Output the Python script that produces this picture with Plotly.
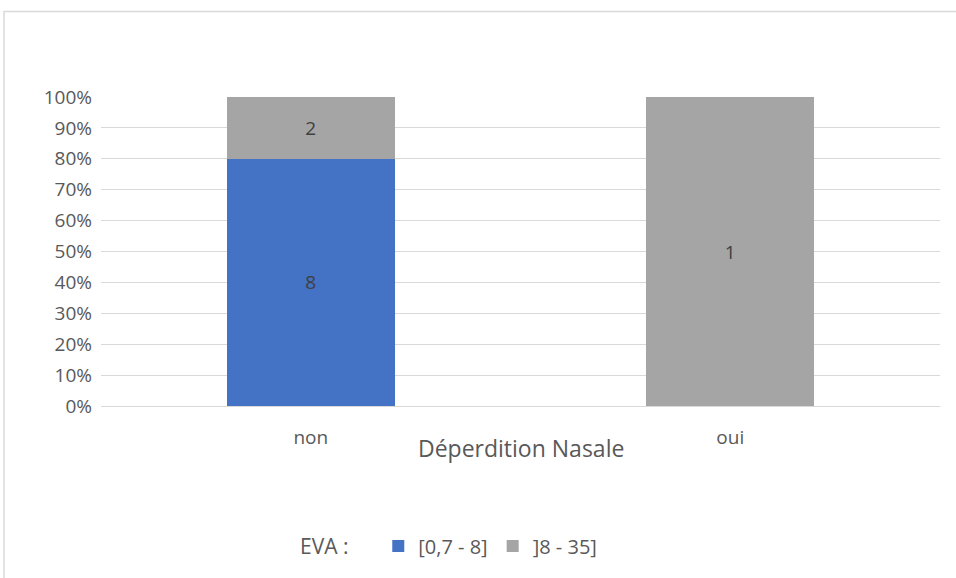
import plotly.graph_objects as go

# Données
categories = ['non', 'oui']
series_names = ['[0,7 - 8]', ']8 - 35]']
eva_low = [8, 0]
eva_high = [2, 1]
colors = ['#4472C4', '#A5A5A5']

W, H = 956, 578
ML, MR, MT, MB = 101, 16, 97, 170
PW, PH = W - ML - MR, H - MT - MB

fig = go.Figure()

for name, vals, col in zip(series_names, [eva_low, eva_high], colors):
    fig.add_trace(go.Bar(
        name=name,
        x=categories,
        y=vals,
        marker_color=col,
        marker_line_width=0,
        text=[str(v) if v else '' for v in vals],
        textposition='inside',
        insidetextanchor='middle',
        textfont=dict(color='#404040', size=19),
        hovertemplate='%{x}<br>' + name + ': %{y}<extra></extra>'
    ))

fig.update_layout(
    width=W, height=H,
    barmode='stack',
    barnorm='percent',
    bargap=0.6,
    plot_bgcolor='white',
    paper_bgcolor='white',
    margin=dict(l=ML, r=MR, t=MT, b=MB),
    font=dict(family='Open Sans, Noto Sans, sans-serif', size=19, color='#595959'),
    showlegend=True,
    legend=dict(
        orientation='h',
        title=dict(text='EVA :    ', font=dict(size=21, color='#595959')),
        x=(298 - ML) / PW,
        xanchor='left',
        y=-(549 - (H - MB)) / PH,
        yanchor='middle',
        font=dict(size=20, color='#595959'),
        itemwidth=30,
        traceorder='normal'
    ),
    # titre de l'axe X placé comme dans Excel (chevauche la ligne des étiquettes)
    annotations=[dict(
        text='Déperdition Nasale', showarrow=False,
        xref='paper', yref='paper', x=0.5, y=-(450 - (H - MB)) / PH,
        xanchor='center', yanchor='middle',
        font=dict(size=23, color='#595959')
    )],
    shapes=[dict(
        type='rect', xref='paper', yref='paper',
        x0=-(ML - 4) / PW, x1=1 + (MR + 5) / PW,
        y0=-(MB + 5) / PH, y1=1 + (MT - 11) / PH,
        line=dict(color='#D9D9D9', width=1.5),
        fillcolor='rgba(0,0,0,0)', layer='below'
    )]
)

fig.update_xaxes(
    showgrid=False,
    showline=False,
    ticks='',
    ticklabelstandoff=18,
    tickfont=dict(size=19, color='#595959')
)

fig.update_yaxes(
    range=[0, 100],
    dtick=10,
    ticksuffix='%',
    showgrid=True,
    gridcolor='#D9D9D9',
    gridwidth=1,
    zeroline=True,
    zerolinecolor='#D9D9D9',
    zerolinewidth=1,
    tickfont=dict(size=19, color='#595959'),
    ticklabelstandoff=8
)

fig.write_html('out.html', config={'displayModeBar': False},
               post_script="document.body.style.margin='0';")
